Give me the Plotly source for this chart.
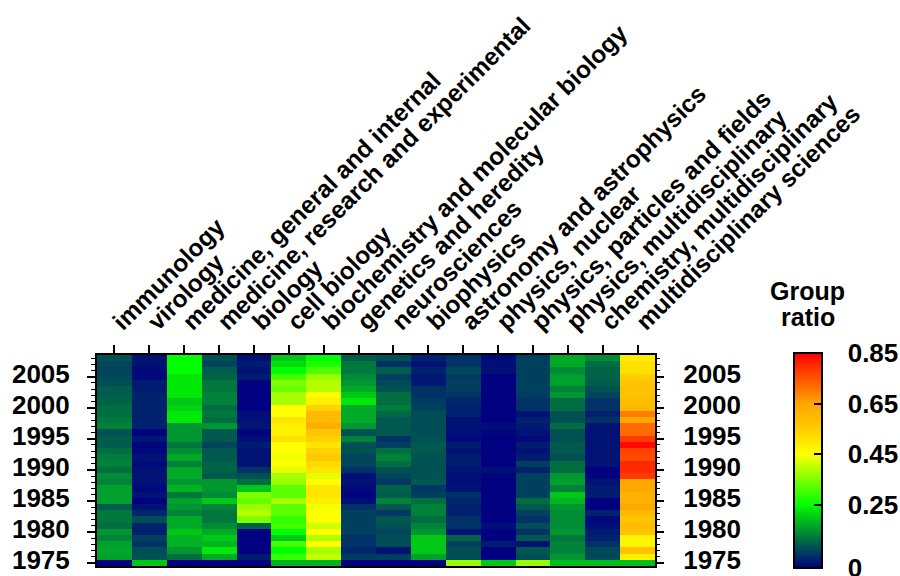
import plotly.graph_objects as go

# Subject categories (columns), left to right
categories = [
    "immunology",
    "virology",
    "medicine, general and internal",
    "medicine, research and experimental",
    "biology",
    "cell biology",
    "biochemistry and molecular biology",
    "genetics and heredity",
    "neurosciences",
    "biophysics",
    "astronomy and astrophysics",
    "physics, nuclear",
    "physics, particles and fields",
    "physics, multidisciplinary",
    "chemistry, multidisciplinary",
    "multidisciplinary sciences",
]

# Publication years, newest first (row order of every series below)
years = list(range(2008, 1974, -1))
year_ticks = [1975, 1980, 1985, 1990, 1995, 2000, 2005]

# Group ratio per category, 2008 -> 1975
immunology = [0.085, 0.07, 0.07, 0.075, 0.08, 0.095, 0.095, 0.1, 0.11, 0.11,
              0.12, 0.13, 0.085, 0.095, 0.095, 0.11, 0.125, 0.13, 0.11, 0.14,
              0.13, 0.16, 0.16, 0.16, 0.095, 0.12, 0.12, 0.11, 0.15, 0.13,
              0.16, 0.165, 0.16, 0.0]
virology = [0.02, 0.02, 0.01, 0.01, 0.03, 0.03, 0.035, 0.035, 0.035, 0.035,
            0.035, 0.035, 0.005, 0.025, 0.005, 0.01, 0.02, 0.01, 0.02, 0.02,
            0.02, 0.01, 0.02, 0.0, 0.02, 0.04, 0.08, 0.035, 0.035, 0.065,
            0.05, 0.08, 0.085, 0.2]
medicine_general = [0.25, 0.25, 0.25, 0.23, 0.23, 0.23, 0.23, 0.2, 0.21, 0.23,
                    0.23, 0.15, 0.15, 0.15, 0.12, 0.14, 0.17, 0.13, 0.17, 0.17,
                    0.15, 0.18, 0.12, 0.16, 0.15, 0.13, 0.17, 0.17, 0.2, 0.18,
                    0.18, 0.15, 0.11, 0.0]
medicine_research = [0.085, 0.07, 0.095, 0.1, 0.12, 0.12, 0.13, 0.13, 0.11, 0.12,
                     0.11, 0.15, 0.09, 0.09, 0.07, 0.09, 0.09, 0.1, 0.1, 0.09,
                     0.15, 0.15, 0.14, 0.2, 0.13, 0.12, 0.12, 0.14, 0.17, 0.2,
                     0.18, 0.23, 0.17, 0.0]
biology = [0.015, 0.03, 0.02, 0.03, 0.0, 0.0, 0.0, 0.0, 0.0, 0.015,
           0.02, 0.025, 0.005, 0.015, 0.03, 0.02, 0.02, 0.02, 0.05, 0.085,
           0.11, 0.2, 0.35, 0.33, 0.37, 0.39, 0.35, 0.1, 0.0, 0.0,
           0.0, 0.0, 0.03, 0.0]
cell_biology = [0.2, 0.22, 0.25, 0.3, 0.35, 0.33, 0.38, 0.38, 0.45, 0.45,
                0.5, 0.48, 0.48, 0.51, 0.45, 0.45, 0.44, 0.45, 0.43, 0.38,
                0.37, 0.32, 0.32, 0.38, 0.32, 0.32, 0.29, 0.3, 0.25, 0.2,
                0.3, 0.25, 0.29, 0.18]
biochemistry = [0.25, 0.27, 0.31, 0.37, 0.39, 0.39, 0.45, 0.48, 0.54, 0.6,
                0.6, 0.63, 0.57, 0.54, 0.5, 0.54, 0.56, 0.52, 0.5, 0.43,
                0.45, 0.5, 0.5, 0.48, 0.44, 0.45, 0.45, 0.41, 0.45, 0.39,
                0.45, 0.38, 0.4, 0.18]
genetics = [0.095, 0.12, 0.12, 0.14, 0.15, 0.17, 0.2, 0.23, 0.17, 0.17,
            0.17, 0.15, 0.085, 0.13, 0.085, 0.085, 0.07, 0.07, 0.05, 0.015,
            0.02, 0.01, 0.005, 0.015, 0.05, 0.065, 0.065, 0.065, 0.065, 0.05,
            0.05, 0.04, 0.06, 0.0]
neurosciences = [0.085, 0.05, 0.095, 0.065, 0.075, 0.085, 0.11, 0.11, 0.125, 0.105,
                 0.09, 0.09, 0.09, 0.05, 0.065, 0.11, 0.13, 0.11, 0.085, 0.07,
                 0.055, 0.1, 0.095, 0.13, 0.09, 0.055, 0.09, 0.085, 0.07, 0.08,
                 0.08, 0.02, 0.065, 0.0]
biophysics = [0.035, 0.02, 0.035, 0.025, 0.025, 0.05, 0.05, 0.06, 0.065, 0.08,
              0.08, 0.08, 0.08, 0.085, 0.09, 0.09, 0.085, 0.085, 0.085, 0.085,
              0.09, 0.055, 0.065, 0.11, 0.13, 0.13, 0.11, 0.13, 0.15, 0.2,
              0.2, 0.2, 0.16, 0.0]
astronomy = [0.05, 0.05, 0.075, 0.06, 0.065, 0.065, 0.05, 0.04, 0.035, 0.035,
             0.02, 0.02, 0.015, 0.01, 0.03, 0.02, 0.03, 0.03, 0.02, 0.015,
             0.015, 0.02, 0.05, 0.04, 0.035, 0.035, 0.05, 0.05, 0.02, 0.1,
             0.065, 0.08, 0.08, 0.37]
physics_nuclear = [0.01, 0.015, 0.015, 0.0, 0.0, 0.0, 0.0, 0.0, 0.0, 0.0,
                   0.0, 0.015, 0.005, 0.0, 0.0, 0.0, 0.0, 0.0, 0.015, 0.005,
                   0.0, 0.0, 0.0, 0.0, 0.0, 0.0, 0.0, 0.015, 0.0, 0.0,
                   0.03, 0.0, 0.0, 0.2]
physics_particles = [0.065, 0.065, 0.065, 0.065, 0.065, 0.065, 0.06, 0.05, 0.05, 0.02,
                     0.035, 0.03, 0.02, 0.01, 0.03, 0.02, 0.03, 0.065, 0.035, 0.065,
                     0.065, 0.065, 0.065, 0.11, 0.09, 0.065, 0.05, 0.08, 0.05, 0.09,
                     0.02, 0.09, 0.08, 0.37]
physics_multi = [0.17, 0.17, 0.14, 0.16, 0.16, 0.13, 0.15, 0.11, 0.11, 0.085,
                 0.085, 0.11, 0.085, 0.085, 0.09, 0.09, 0.085, 0.11, 0.11, 0.15,
                 0.16, 0.13, 0.2, 0.18, 0.15, 0.14, 0.14, 0.14, 0.15, 0.12,
                 0.13, 0.13, 0.15, 0.19]
chemistry_multi = [0.14, 0.11, 0.1, 0.1, 0.095, 0.085, 0.07, 0.05, 0.05, 0.035,
                   0.05, 0.02, 0.02, 0.02, 0.02, 0.02, 0.02, 0.02, 0.0, 0.005,
                   0.02, 0.03, 0.03, 0.0, 0.0, 0.035, 0.01, 0.015, 0.03, 0.035,
                   0.05, 0.075, 0.075, 0.19]
multidisciplinary = [0.49, 0.51, 0.51, 0.55, 0.57, 0.58, 0.58, 0.59, 0.6, 0.7,
                     0.64, 0.72, 0.72, 0.78, 0.84, 0.77, 0.76, 0.8, 0.8, 0.78,
                     0.64, 0.64, 0.62, 0.62, 0.64, 0.6, 0.57, 0.59, 0.58, 0.47,
                     0.47, 0.58, 0.48, 0.19]

series = [immunology, virology, medicine_general, medicine_research, biology,
          cell_biology, biochemistry, genetics, neurosciences, biophysics,
          astronomy, physics_nuclear, physics_particles, physics_multi,
          chemistry_multi, multidisciplinary]

# z[row][col]: rows follow `years`, columns follow `categories`
z = [[col[i] for col in series] for i in range(len(years))]

zmax = 0.85
cbar_ticks = [0, 0.25, 0.45, 0.65, 0.85]
cbar_text = ["0", "0.25", "0.45", "0.65", "0.85"]

# navy -> teal -> green -> yellow -> orange -> red
stops = [
    (0.0, "rgb(0,0,128)"),
    (0.03, "rgb(0,28,112)"),
    (0.06, "rgb(0,60,98)"),
    (0.085, "rgb(0,82,82)"),
    (0.11, "rgb(0,110,64)"),
    (0.15, "rgb(0,150,50)"),
    (0.2, "rgb(0,200,22)"),
    (0.25, "rgb(0,255,0)"),
    (0.35, "rgb(128,255,0)"),
    (0.45, "rgb(255,255,0)"),
    (0.55, "rgb(255,205,0)"),
    (0.65, "rgb(255,165,0)"),
    (0.85, "rgb(255,0,0)"),
]
colorscale = [[v / zmax, c] for v, c in stops]

FONT = "Liberation Sans, Arial, Helvetica, sans-serif"
col_idx = list(range(len(categories)))

cbar_common = dict(
    x=1.249, xanchor="left", xpad=0,
    y=-0.01, yanchor="bottom", ypad=0,
    thickness=28, thicknessmode="pixels",
    len=215, lenmode="pixels",
    outlinewidth=2, outlinecolor="black",
    tickmode="array", tickvals=cbar_ticks, ticktext=cbar_text,
)

fig = go.Figure()
# main heatmap; its colour bar carries the value labels
fig.add_trace(go.Heatmap(
    z=z, x=col_idx, y=years,
    zmin=0, zmax=zmax, colorscale=colorscale,
    colorbar=dict(
        **cbar_common,
        ticks="outside", ticklen=20, tickcolor="rgba(0,0,0,0)",
        ticklabeloverflow="allow",
        tickfont=dict(family=FONT, size=26, color="black", weight="bold"),
    ),
))
# same heatmap again, its colour bar adds the short inside tick dashes
fig.add_trace(go.Heatmap(
    z=z, x=col_idx, y=years,
    zmin=0, zmax=zmax, colorscale=colorscale, hoverinfo="skip",
    colorbar=dict(
        **cbar_common,
        ticks="inside", ticklen=9, tickwidth=1.5, tickcolor="black",
        showticklabels=False,
    ),
))
# companion trace so the right-hand year axis is drawn
fig.add_trace(go.Scatter(
    x=[col_idx[0]], y=[years[-1]], yaxis="y2", mode="markers",
    marker=dict(opacity=0), showlegend=False, hoverinfo="skip",
))

yr_range = [min(years) - 0.5, max(years) + 0.5]
year_axis = dict(
    range=yr_range, tickmode="array", tickvals=year_ticks,
    ticks="outside", ticklen=8, tickwidth=1.5, tickcolor="black",
    minor=dict(dtick=1, tick0=1975, ticks="outside", ticklen=4,
               tickwidth=1, tickcolor="black"),
    tickfont=dict(family=FONT, size=26, color="black", weight="bold"),
    ticklabeloverflow="allow", ticklabelshift=-3,
    showgrid=False, zeroline=False,
)

title_font = dict(family=FONT, size=25, color="black", weight="bold")

fig.update_layout(
    width=900, height=576,
    margin=dict(l=97, r=245, t=355, b=10, autoexpand=False),
    paper_bgcolor="white", plot_bgcolor="white",
    xaxis=dict(
        side="top", range=[-0.5, len(categories) - 0.5],
        tickmode="array", tickvals=col_idx, ticktext=categories,
        tickangle=-45, ticks="outside", ticklen=8, tickwidth=1.5,
        tickcolor="black",
        tickfont=dict(family=FONT, size=24.5, color="black", weight="bold"),
        showline=True, linecolor="black", linewidth=2, mirror=True,
        showgrid=False, zeroline=False,
    ),
    yaxis=dict(
        **year_axis, side="left", ticklabelstandoff=12,
        showline=True, linecolor="black", linewidth=2, mirror=True,
    ),
    yaxis2=dict(
        **year_axis, side="right", overlaying="y", anchor="x",
        ticklabelstandoff=14, showline=False,
    ),
    annotations=[
        dict(text="Group", xref="paper", yref="paper", x=1.274, y=1.305,
             xanchor="center", yanchor="middle", showarrow=False,
             font=title_font),
        dict(text="ratio", xref="paper", yref="paper", x=1.274, y=1.18,
             xanchor="center", yanchor="middle", showarrow=False,
             font=title_font),
    ],
)

fig.write_html("out.html")
